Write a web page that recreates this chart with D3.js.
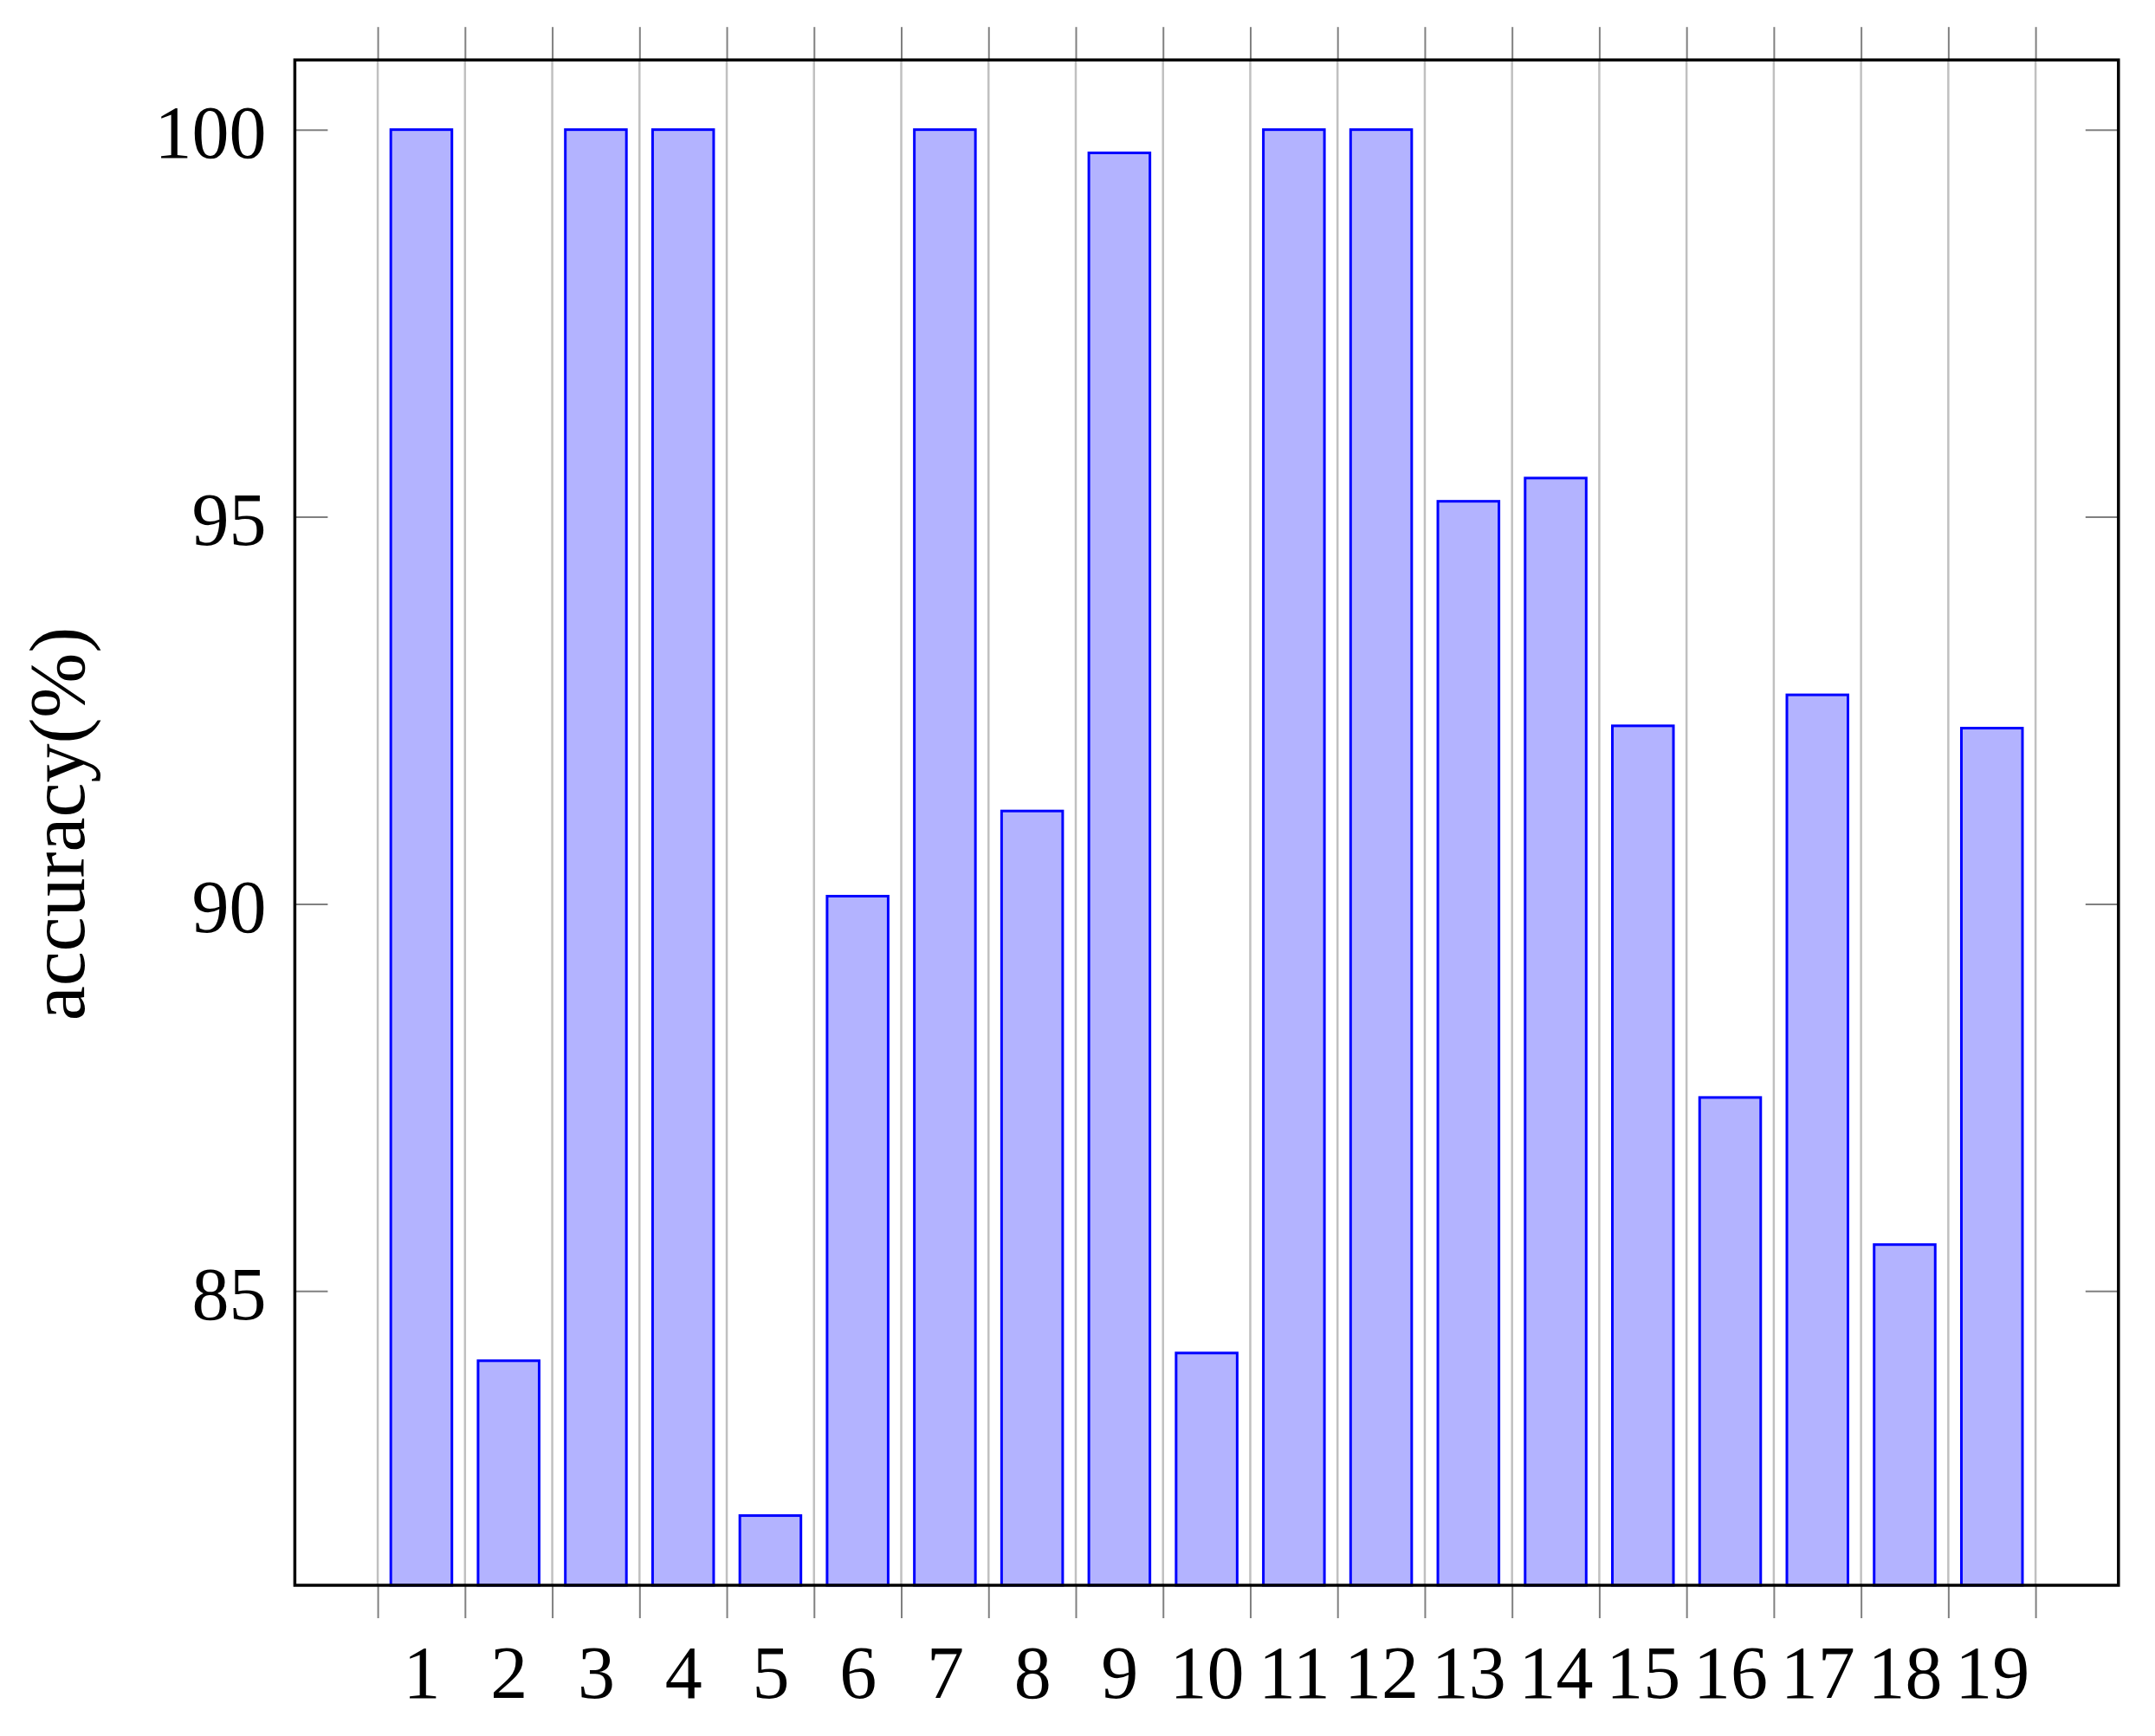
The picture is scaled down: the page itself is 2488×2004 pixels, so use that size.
<!DOCTYPE html>
<html>
<head>
<meta charset="utf-8">
<script src="https://cdn.jsdelivr.net/npm/d3@7"></script>
<style>
  body { margin: 0; background: #fff; }
  svg { display: block; }
  .tick-label text, .y-label text { font-family: "Liberation Serif", serif; fill: #000; }
</style>
</head>
<body>
<div id="chart"></div>
<script>
// bar categories and values (accuracy in %)
var categories = [1, 2, 3, 4, 5, 6, 7, 8, 9, 10, 11, 12, 13, 14, 15, 16, 17, 18, 19];
var accuracy = [100, 84.1, 100, 100, 82.1, 90.1, 100, 91.2, 99.7, 84.2,
                100, 100, 95.2, 95.5, 92.3, 87.5, 92.7, 85.6, 92.27];
var yTicks = [85, 90, 95, 100];
// grid / tick positions sit between the bars
var xTicks = d3.range(0.5, 20, 1);

var W = 2488, H = 2004;
// plot frame (note: "top" is reserved on window, so use plot* names)
var plotLeft = 340.4, plotRight = 2445.8, plotTop = 69.2, plotBottom = 1830;
var fontSize = 86;

var x = d3.scaleLinear().domain([-0.45, 20.45]).range([plotLeft, plotRight]);
var y = d3.scaleLinear().domain([81.2, 100.9]).range([plotBottom, plotTop]);

var svg = d3.select('#chart')
  .append('svg')
  .attr('width', W)
  .attr('height', H);

// vertical grid lines
svg.append('g')
  .selectAll('line')
  .data(xTicks)
  .enter().append('line')
  .attr('x1', function(d) { return x(d); })
  .attr('x2', function(d) { return x(d); })
  .attr('y1', plotTop)
  .attr('y2', plotBottom)
  .attr('stroke', '#c0c0c0')
  .attr('stroke-width', 2.5);

// bars
var barW = x(0.7) - x(0);
svg.append('g')
  .selectAll('rect')
  .data(accuracy)
  .enter().append('rect')
  .attr('x', function(d, i) { return x(categories[i]) - barW / 2; })
  .attr('y', function(d) { return y(d); })
  .attr('width', barW)
  .attr('height', function(d) { return plotBottom - y(d); })
  .attr('fill', '#b3b3ff')
  .attr('stroke', '#0000ff')
  .attr('stroke-width', 3);

// ticks: x outside (bottom & top), y inside (left & right)
function styleTicks(g) {
  g.select('.domain').remove();
  g.selectAll('.tick line').attr('stroke', '#808080').attr('stroke-width', 2);
  g.selectAll('.tick text').remove();
}
svg.append('g')
  .attr('transform', 'translate(0,' + plotBottom + ')')
  .call(d3.axisBottom(x).tickValues(xTicks).tickSize(38))
  .call(styleTicks);
svg.append('g')
  .attr('transform', 'translate(0,' + plotTop + ')')
  .call(d3.axisTop(x).tickValues(xTicks).tickSize(38))
  .call(styleTicks);
svg.append('g')
  .attr('transform', 'translate(' + plotLeft + ',0)')
  .call(d3.axisRight(y).tickValues(yTicks).tickSize(38))
  .call(styleTicks);
svg.append('g')
  .attr('transform', 'translate(' + plotRight + ',0)')
  .call(d3.axisLeft(y).tickValues(yTicks).tickSize(38))
  .call(styleTicks);

// x tick labels under bar centres
var xLab = svg.append('g')
  .attr('class', 'tick-label')
  .attr('transform', 'translate(0,' + plotBottom + ')')
  .call(d3.axisBottom(x).tickValues(categories).tickSize(0).tickPadding(0)
    .tickFormat(function(d) { return String(d); }));
xLab.select('.domain').remove();
xLab.selectAll('text')
  .attr('y', 130)
  .attr('dy', null)
  .attr('font-size', fontSize);

// y tick labels
var yLab = svg.append('g')
  .attr('class', 'y-label')
  .attr('transform', 'translate(' + plotLeft + ',0)')
  .call(d3.axisLeft(y).tickValues(yTicks).tickSize(0).tickPadding(33));
yLab.select('.domain').remove();
yLab.selectAll('text')
  .attr('dy', '0.37em')
  .attr('font-size', fontSize);

// frame
svg.append('rect')
  .attr('x', plotLeft)
  .attr('y', plotTop)
  .attr('width', plotRight - plotLeft)
  .attr('height', plotBottom - plotTop)
  .attr('fill', 'none')
  .attr('stroke', '#000')
  .attr('stroke-width', 3.5);

// y axis title
svg.append('text')
  .attr('transform', 'translate(97,951) rotate(-90)')
  .attr('text-anchor', 'middle')
  .attr('font-family', '"Liberation Serif", serif')
  .attr('font-size', 90)
  .text('accuracy(%)');
</script>
</body>
</html>
